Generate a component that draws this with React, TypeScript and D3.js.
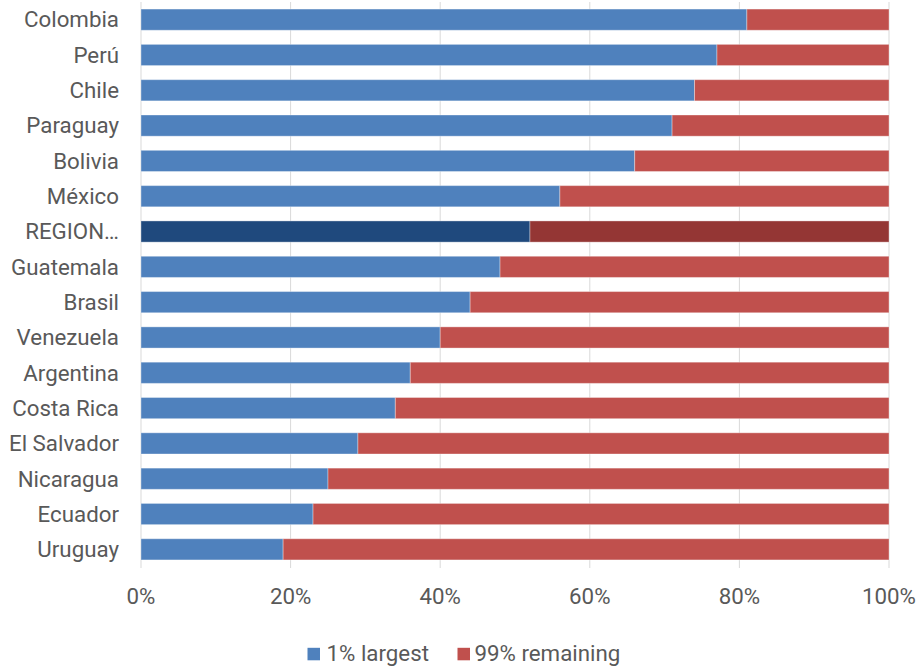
import React from "react";
import * as d3 from "d3";

const countries = [
  "Colombia", "Perú", "Chile", "Paraguay", "Bolivia", "México", "REGION…",
  "Guatemala", "Brasil", "Venezuela", "Argentina", "Costa Rica", "El Salvador",
  "Nicaragua", "Ecuador", "Uruguay",
];
const largest = [81, 77, 74, 71, 66, 56, 52, 48, 44, 40, 36, 34, 29, 25, 23, 19];
const remaining = largest.map((v) => 100 - v);
const seriesNames = ["1% largest", "99% remaining"];
const ticks = [0, 20, 40, 60, 80, 100];
const highlight = "REGION…";

const W = 921;
const H = 669;
const margin = { left: 141, right: 32, top: 2, bottom: 102 };
const colors = ["#4f81bd", "#c0504d"];
const darkColors = ["#1f497d", "#943634"];
const textColor = "#595959";
const font = "Roboto, 'Noto Sans', sans-serif";
const fontSize = 22.3;

export default function App() {
  const x = d3.scaleLinear().domain([0, 100]).range([margin.left, W - margin.right]);
  const y = d3
    .scaleBand<string>()
    .domain(countries)
    .range([margin.top, H - margin.bottom])
    .paddingInner(0.4)
    .paddingOuter(0.2);

  const rows = countries.map((c, i) => ({ a: largest[i], b: remaining[i], c }));
  const stack = d3.stack<any>().keys(["a", "b"])(rows);

  const legendY = 654;
  const legendItems = [
    { x: 307.5, label: seriesNames[0], color: colors[0] },
    { x: 457.5, label: seriesNames[1], color: colors[1] },
  ];

  return (
    <svg width={W} height={H} style={{ position: "absolute", left: 0, top: 0, background: "#fff" }}>
      {ticks.map((t) => (
        <line
          key={t}
          x1={x(t)}
          x2={x(t)}
          y1={margin.top}
          y2={H - margin.bottom + 1}
          stroke="#d9d9d9"
          strokeWidth={1}
        />
      ))}
      {stack.map((s, si) =>
        s.map((d, i) => {
          const c = countries[i];
          const fill = c === highlight ? darkColors[si] : colors[si];
          return (
            <rect
              key={`${si}-${i}`}
              x={x(d[0])}
              y={y(c)}
              width={x(d[1]) - x(d[0])}
              height={y.bandwidth()}
              fill={fill}
              stroke="#ffffff"
              strokeOpacity={0.35}
              strokeWidth={1}
            />
          );
        })
      )}
      {countries.map((c) => (
        <text
          key={c}
          x={119}
          y={(y(c) ?? 0) + y.bandwidth() / 2}
          dy="0.35em"
          textAnchor="end"
          fontFamily={font}
          fontSize={fontSize}
          fill={textColor}
        >
          {c}
        </text>
      ))}
      {ticks.map((t) => (
        <text
          key={t}
          x={x(t)}
          y={596}
          dy="0.35em"
          textAnchor="middle"
          fontFamily={font}
          fontSize={fontSize}
          fill={textColor}
        >
          {`${t}%`}
        </text>
      ))}
      {legendItems.map((l, i) => (
        <g key={l.label}>
          <rect x={l.x} y={legendY - 6.2} width={12.5} height={12.5} fill={l.color} />
          <text
            x={l.x + (i === 0 ? 19 : 17)}
            y={legendY - 1}
            dy="0.35em"
            fontFamily={font}
            fontSize={fontSize}
            fill={textColor}
          >
            {l.label}
          </text>
        </g>
      ))}
    </svg>
  );
}
